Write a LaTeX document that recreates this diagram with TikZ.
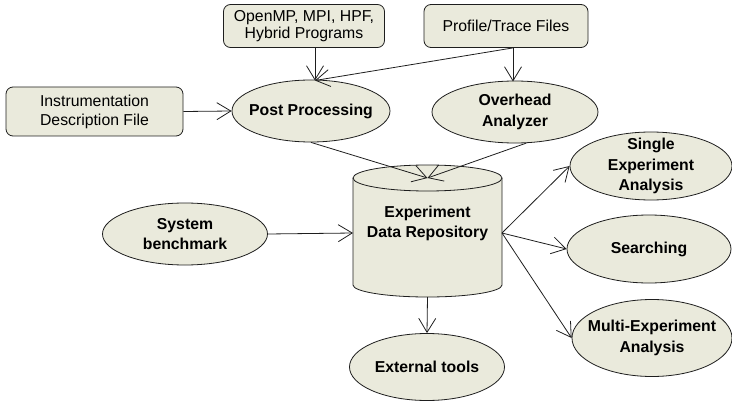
\documentclass[tikz,border=0pt]{standalone}
\usepackage{fontspec}
\setmainfont{Liberation Sans}
\usetikzlibrary{shapes.geometric,arrows.meta}

\definecolor{shade}{RGB}{234,234,220}
\definecolor{edge}{RGB}{30,30,30}

\tikzset{
  x=1pt, y=-1pt,
  filebox/.style={draw=edge, fill=shade, rounded corners=7pt, line width=0.8pt,
    inner sep=0pt, align=center,
    font=\fontsize{15.8}{19}\selectfont},
  % negative inner sep lets the minimum size fix the ellipse
  proc/.style={ellipse, draw=edge, fill=shade, line width=0.8pt, inner sep=-30pt,
    align=center, font=\fontsize{15.8}{20.5}\selectfont\bfseries},
  link/.style={draw=edge, line width=0.8pt,
    -{Straight Barb[length=14pt,width=17pt,line width=0.8pt]}},
}

\begin{document}
\begin{tikzpicture}
\useasboundingbox (0,0) rectangle (732,404);

% input files
\node[filebox, minimum width=161, minimum height=43,
      font=\fontsize{15.8}{17.5}\selectfont] (omp) at (304,26)
  {OpenMP, MPI, HPF,\\Hybrid Programs};
\node[filebox, minimum width=164, minimum height=43] (prof) at (506,26)
  {Profile/Trace Files};
\node[filebox, minimum width=177, minimum height=49] (instr) at (94.5,111.5)
  {Instrumentation\\Description File};

% processing steps
\node[proc, minimum width=158, minimum height=62] (post) at (311,111) {Post Processing};
\node[proc, minimum width=166, minimum height=62] (oa) at (515,112) {Overhead\\Analyzer};
\node[proc, minimum width=165, minimum height=62] (sys) at (185,234) {System\\benchmark};

% analysis tools
\node[proc, minimum width=162, minimum height=68] (single) at (651,166)
  {Single\\Experiment\\Analysis};
\node[proc, minimum width=164, minimum height=68] (search) at (649,249) {Searching};
\node[proc, minimum width=160, minimum height=77] (multi) at (652,338)
  {Multi-Experiment\\Analysis};
\node[proc, minimum width=155, minimum height=67] (ext) at (427,367) {External tools};

% repository drum (y axis points down, so angle 90 is the lower rim)
\draw[draw=edge, fill=shade, line width=0.8pt]
  (353,178) -- (353,285) arc[start angle=180, end angle=0, x radius=74.5, y radius=12]
  -- (502,178) arc[start angle=0, end angle=-180, x radius=74.5, y radius=13] -- cycle;
\draw[draw=edge, line width=0.8pt]
  (353,178) arc[start angle=180, end angle=0, x radius=74.5, y radius=13];
\node[inner sep=0pt, minimum width=149, minimum height=132, align=center,
      font=\fontsize{15.8}{20}\selectfont\bfseries] (repo) at (427.5,223)
  {Experiment\\Data Repository};
\coordinate (repotop) at (427.5,178);
\coordinate (repoleft) at (353,233);
\coordinate (reporight) at (502,233);
\coordinate (repobot) at (427.5,297);

% anchor points on the upper ellipses
\coordinate (pptop) at (315,80.5);
\coordinate (oatop) at (513,81.5);

% connectors
\draw[link] (omp.south -| pptop) -- (pptop);
\draw[link] (prof.south -| oatop) -- (pptop);
\draw[link] (prof.south -| oatop) -- (oatop);
\draw[link] (instr.east) -- (post.west);
\draw[link] (post.south) -- (repotop);
\draw[link] (oa.290) -- (repotop);
\draw[link] (sys.east) -- (repoleft);
\draw[link] (reporight) -- (single.west);
\draw[link] (reporight) -- (search.west);
\draw[link] (reporight) -- (multi.west);
\draw[link] (repobot) -- (ext.north);
\end{tikzpicture}
\end{document}
